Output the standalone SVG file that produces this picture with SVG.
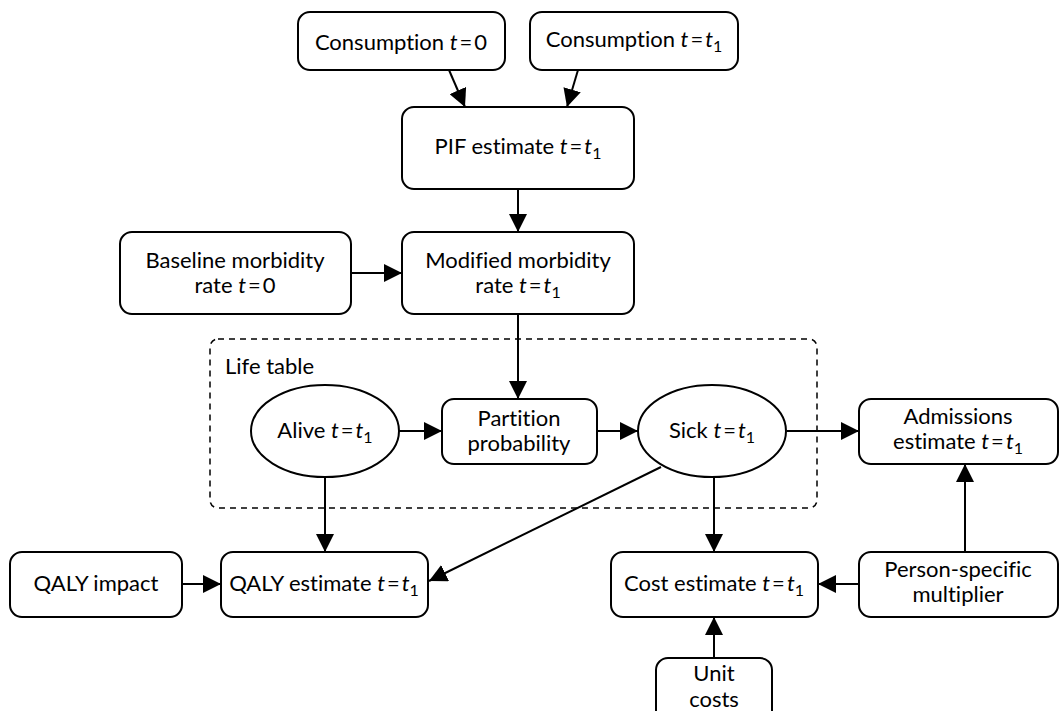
<svg xmlns="http://www.w3.org/2000/svg" width="1062" height="711" viewBox="0 0 1062 711">
<defs>
<style>
.n{fill:#fff;stroke:#000;stroke-width:2}
.t{font-family:Lato,"Noto Sans",sans-serif;font-size:22px;fill:#000;text-anchor:middle;font-variant-ligatures:none}
.i{font-style:italic}
.s{font-size:16px}
.c{fill:none;stroke:#000;stroke-width:2;marker-end:url(#ah2)}
</style>
<marker id="ah2" viewBox="0 0 18 18" refX="18" refY="9" markerWidth="18" markerHeight="18" markerUnits="userSpaceOnUse" orient="auto">
<path d="M0,0 L18,9 L0,18 z" fill="#000"/>
</marker>
</defs>
<rect width="1062" height="711" fill="#fff"/>
<g id="lifetable">
<rect x="210" y="339" width="607" height="169" rx="8" fill="none" stroke="#000" stroke-width="1.5" stroke-dasharray="6,5"/>
<text class="t" x="225" y="374" style="text-anchor:start">Life table</text>
</g>
<g id="connectors">
<line class="c" x1="449" y1="70" x2="465" y2="107"/>
<line class="c" x1="578" y1="70" x2="567" y2="107"/>
<line class="c" x1="518" y1="189" x2="518" y2="232"/>
<line class="c" x1="351" y1="273" x2="402" y2="273"/>
<line class="c" x1="518" y1="314" x2="518" y2="399"/>
<line class="c" x1="399" y1="431" x2="442" y2="431"/>
<line class="c" x1="597" y1="431" x2="638" y2="431"/>
<line class="c" x1="787" y1="431" x2="859" y2="431"/>
<line class="c" x1="325" y1="477" x2="325" y2="552"/>
<line class="c" x1="661" y1="467" x2="429" y2="581"/>
<line class="c" x1="714" y1="477" x2="714" y2="552"/>
<line class="c" x1="182" y1="584" x2="221" y2="584"/>
<line class="c" x1="859" y1="584" x2="818" y2="584"/>
<line class="c" x1="965" y1="552" x2="965" y2="464"/>
<line class="c" x1="714" y1="658" x2="714" y2="617"/>
</g>
<g id="cons0">
<rect class="n" x="298" y="12" width="207" height="58" rx="12"/>
<text class="t" x="401" y="50">Consumption <tspan class="i">t</tspan><tspan dx="2">=</tspan><tspan dx="2">0</tspan></text>
</g>
<g id="cons1">
<rect class="n" x="530" y="12" width="208" height="58" rx="12"/>
<text class="t" x="634" y="47">Consumption <tspan class="i">t</tspan><tspan dx="2">=</tspan><tspan class="i" dx="2">t</tspan><tspan class="s" dy="5">1</tspan></text>
</g>
<g id="pif">
<rect class="n" x="402" y="107" width="232" height="82" rx="12"/>
<text class="t" x="518" y="154">PIF estimate <tspan class="i">t</tspan><tspan dx="2">=</tspan><tspan class="i" dx="2">t</tspan><tspan class="s" dy="5">1</tspan></text>
</g>
<g id="baseline">
<rect class="n" x="120" y="232" width="231" height="82" rx="12"/>
<text class="t" x="235" y="268">Baseline morbidity</text>
<text class="t" x="235" y="293">rate <tspan class="i">t</tspan><tspan dx="2">=</tspan><tspan dx="2">0</tspan></text>
</g>
<g id="modified">
<rect class="n" x="402" y="232" width="232" height="82" rx="12"/>
<text class="t" x="518" y="268">Modified morbidity</text>
<text class="t" x="518" y="293">rate <tspan class="i">t</tspan><tspan dx="2">=</tspan><tspan class="i" dx="2">t</tspan><tspan class="s" dy="5">1</tspan></text>
</g>
<g id="alive">
<ellipse class="n" cx="325" cy="431" rx="74" ry="46"/>
<text class="t" x="325" y="438">Alive <tspan class="i">t</tspan><tspan dx="2">=</tspan><tspan class="i" dx="2">t</tspan><tspan class="s" dy="5">1</tspan></text>
</g>
<g id="partition">
<rect class="n" x="442" y="399" width="155" height="65" rx="12"/>
<text class="t" x="519" y="426">Partition</text>
<text class="t" x="519" y="451">probability</text>
</g>
<g id="sick">
<ellipse class="n" cx="712" cy="431" rx="74" ry="46"/>
<text class="t" x="712" y="438">Sick <tspan class="i">t</tspan><tspan dx="2">=</tspan><tspan class="i" dx="2">t</tspan><tspan class="s" dy="5">1</tspan></text>
</g>
<g id="admissions">
<rect class="n" x="859" y="399" width="199" height="65" rx="12"/>
<text class="t" x="958" y="424">Admissions</text>
<text class="t" x="958" y="449">estimate <tspan class="i">t</tspan><tspan dx="2">=</tspan><tspan class="i" dx="2">t</tspan><tspan class="s" dy="5">1</tspan></text>
</g>
<g id="qalyimpact">
<rect class="n" x="10" y="552" width="172" height="65" rx="12"/>
<text class="t" x="96" y="591">QALY impact</text>
</g>
<g id="qalyest">
<rect class="n" x="221" y="552" width="207" height="65" rx="12"/>
<text class="t" x="324" y="591">QALY estimate <tspan class="i">t</tspan><tspan dx="2">=</tspan><tspan class="i" dx="2">t</tspan><tspan class="s" dy="5">1</tspan></text>
</g>
<g id="cost">
<rect class="n" x="611" y="552" width="207" height="65" rx="12"/>
<text class="t" x="714" y="591">Cost estimate <tspan class="i">t</tspan><tspan dx="2">=</tspan><tspan class="i" dx="2">t</tspan><tspan class="s" dy="5">1</tspan></text>
</g>
<g id="person">
<rect class="n" x="859" y="552" width="199" height="65" rx="12"/>
<text class="t" x="958" y="577">Person-specific</text>
<text class="t" x="958" y="602">multiplier</text>
</g>
<g id="unit">
<rect class="n" x="656" y="658" width="116" height="70" rx="12"/>
<text class="t" x="714" y="681">Unit</text>
<text class="t" x="714" y="707">costs</text>
</g>
</svg>
